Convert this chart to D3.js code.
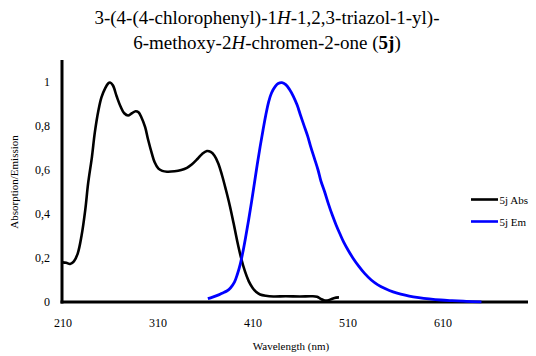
<!DOCTYPE html>
<html>
<head>
<meta charset="utf-8">
<script src="https://cdn.jsdelivr.net/npm/d3@7"></script>
<style>
  html, body { margin: 0; padding: 0; background: #fff; }
  svg text { font-family: 'Liberation Serif', 'DejaVu Serif', 'Noto Serif', 'Times New Roman', Times, serif; }
</style>
</head>
<body>
<svg id="chart" width="536" height="356"></svg>
<script>
// Absorption spectrum of 5j: wavelength (nm) and normalized value
const absWavelength = [210,214,218,222,226,230,234,237,241,244,248,251,255,258,260,263,267,271,275,279,283,287,290,293,297,300,304,307,311,315,320,328,335,341,346,352,357,362,366,370,374,378,382,386,390,394,398,402,406,410,414,418,424,432,445,460,472,478,482,486,490,494,498,501];
const absValue = [0.18,0.178,0.173,0.185,0.22,0.30,0.42,0.54,0.66,0.77,0.875,0.93,0.972,0.993,0.998,0.985,0.935,0.89,0.858,0.848,0.858,0.867,0.862,0.84,0.795,0.74,0.676,0.635,0.606,0.596,0.592,0.594,0.6,0.61,0.625,0.65,0.673,0.686,0.682,0.665,0.63,0.575,0.51,0.44,0.36,0.275,0.2,0.14,0.095,0.065,0.045,0.034,0.028,0.025,0.026,0.025,0.026,0.024,0.014,0.007,0.008,0.015,0.02,0.021];

// Emission spectrum of 5j
const emWavelength = [363,368,373,378,383,387,391,394,397,400,403,406,409,412,415,418,421,424,427,430,434,437,441,445,449,453,457,460,464,468,471,475,479,482,486,490,494,498,502,506,511,516,522,528,535,542,550,558,566,575,585,596,608,620,635,651];
const emValue = [0.015,0.022,0.03,0.04,0.05,0.065,0.09,0.125,0.17,0.23,0.3,0.375,0.455,0.54,0.625,0.705,0.78,0.85,0.91,0.95,0.98,0.993,0.997,0.988,0.966,0.935,0.895,0.856,0.805,0.755,0.71,0.655,0.6,0.55,0.5,0.445,0.395,0.35,0.31,0.272,0.233,0.198,0.162,0.13,0.1,0.078,0.06,0.046,0.036,0.027,0.02,0.014,0.009,0.006,0.003,0.001];

const xTicks = [210, 310, 410, 510, 610];
const yTicks = [0, 0.2, 0.4, 0.6, 0.8, 1];
const seriesNames = ["5j Abs", "5j Em"];
const seriesColors = ["#000000", "#0000ff"];

const serif = "'Liberation Serif', 'DejaVu Serif', 'Noto Serif', 'Times New Roman', Times, serif";

const svg = d3.select("#chart");

const x = d3.scaleLinear().domain([210, 700]).range([62.5, 528]);
const y = d3.scaleLinear().domain([0, 1.1]).range([302, 60]);

// Title (two lines, with italic H and bold 5j)
const title = svg.append("text")
  .attr("text-anchor", "middle")
  .attr("font-family", serif)
  .attr("font-size", 19)
  .attr("fill", "#000");
const t1 = title.append("tspan").attr("x", 267).attr("y", 24);
t1.append("tspan").text("3-(4-(4-chlorophenyl)-1");
t1.append("tspan").attr("font-style", "italic").text("H");
t1.append("tspan").text("-1,2,3-triazol-1-yl)-");
const t2 = title.append("tspan").attr("x", 267).attr("y", 49);
t2.append("tspan").text("6-methoxy-2");
t2.append("tspan").attr("font-style", "italic").text("H");
t2.append("tspan").text("-chromen-2-one (");
t2.append("tspan").attr("font-weight", "bold").text("5j");
t2.append("tspan").text(")");

// Axes
const xAxis = d3.axisBottom(x).tickValues(xTicks).tickSize(0).tickPadding(16);
const yAxis = d3.axisLeft(y).tickValues(yTicks).tickSize(0).tickPadding(12)
  .tickFormat(d => String(d).replace(".", ","));

const gx = svg.append("g").attr("transform", "translate(0,302)").call(xAxis);
const gy = svg.append("g").attr("transform", "translate(62,0)").call(yAxis);
gx.select(".domain").remove();
gy.select(".domain").remove();
[gx, gy].forEach(g => {
  g.attr("font-family", serif).attr("font-size", 12);
  g.selectAll("text").attr("fill", "#000");
});

// Axis lines
svg.append("line").attr("x1", 62).attr("x2", 62).attr("y1", y(1.1)).attr("y2", 303.5)
  .attr("stroke", "#000").attr("stroke-width", 3);
svg.append("line").attr("x1", 60.5).attr("x2", x(700)).attr("y1", 302).attr("y2", 302)
  .attr("stroke", "#000").attr("stroke-width", 3);

// Axis titles
svg.append("text")
  .attr("x", 291).attr("y", 350)
  .attr("text-anchor", "middle")
  .attr("font-family", serif)
  .attr("font-size", 11)
  .text("Wavelength (nm)");
svg.append("text")
  .attr("transform", "translate(18,182) rotate(-90)")
  .attr("text-anchor", "middle")
  .attr("font-family", serif)
  .attr("font-size", 11)
  .text("Absorption/Emission");

// Spectra
const line = d3.line()
  .x(d => x(d[0]))
  .y(d => y(d[1]))
  .curve(d3.curveCatmullRom.alpha(0.5));

const absData = absWavelength.map((w, i) => [w, absValue[i]]);
const emData = emWavelength.map((w, i) => [w, emValue[i]]);

svg.append("path").datum(absData)
  .attr("d", line).attr("fill", "none")
  .attr("stroke", seriesColors[0]).attr("stroke-width", 2.6)
  .attr("stroke-linejoin", "round");
svg.append("path").datum(emData)
  .attr("d", line).attr("fill", "none")
  .attr("stroke", seriesColors[1]).attr("stroke-width", 2.8)
  .attr("stroke-linejoin", "round");

// Legend
const legend = svg.append("g").attr("font-family", serif).attr("font-size", 11);
seriesNames.forEach((name, i) => {
  const ly = 199.5 + i * 22;
  legend.append("line")
    .attr("x1", 471).attr("x2", 498).attr("y1", ly).attr("y2", ly)
    .attr("stroke", seriesColors[i]).attr("stroke-width", 2.6);
  legend.append("text")
    .attr("x", 499.5).attr("y", ly + 4)
    .text(name);
});
</script>
</body>
</html>
